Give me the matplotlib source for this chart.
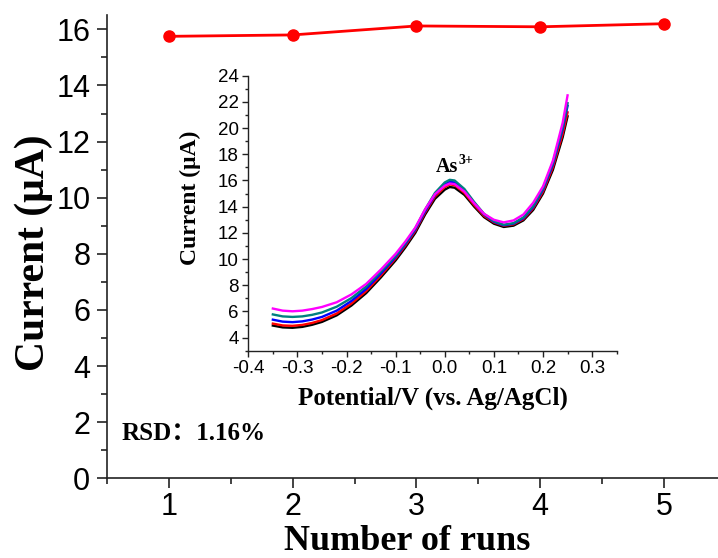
import matplotlib
matplotlib.use('Agg')
import matplotlib.pyplot as plt
from matplotlib.ticker import MultipleLocator
import numpy as np

plt.rcParams['axes.unicode_minus'] = False

# main plot: peak current of five repeated runs
runs = [1, 2, 3, 4, 5]
peak_current = [15.75, 15.80, 16.12, 16.09, 16.20]

# inset: square-wave voltammograms of the five runs
potential = [-0.35, -0.33, -0.31, -0.29, -0.27, -0.25, -0.22, -0.19, -0.16, -0.13,
             -0.10, -0.08, -0.06, -0.04, -0.02, 0.00, 0.01, 0.02, 0.04, 0.06,
             0.08, 0.10, 0.12, 0.14, 0.16, 0.18, 0.20, 0.22, 0.24, 0.25]
curve_black = [4.92, 4.78, 4.75, 4.82, 4.98, 5.20, 5.70, 6.45, 7.40, 8.60,
               9.90, 10.90, 12.00, 13.40, 14.60, 15.30, 15.50, 15.45, 14.90, 14.00,
               13.20, 12.70, 12.45, 12.55, 12.95, 13.75, 15.00, 16.80, 19.30, 20.90]
curve_red = [5.07, 4.93, 4.90, 4.97, 5.12, 5.34, 5.84, 6.60, 7.55, 8.75,
             10.05, 11.05, 12.15, 13.55, 14.78, 15.50, 15.70, 15.65, 15.05, 14.12,
             13.30, 12.80, 12.55, 12.65, 13.05, 13.88, 15.15, 17.00, 19.55, 21.20]
curve_blue = [5.37, 5.22, 5.18, 5.24, 5.38, 5.58, 6.06, 6.80, 7.72, 8.90,
              10.15, 11.15, 12.25, 13.65, 14.90, 15.68, 15.90, 15.85, 15.22, 14.25,
              13.40, 12.85, 12.58, 12.70, 13.12, 13.97, 15.30, 17.20, 19.90, 21.70]
curve_teal = [5.77, 5.62, 5.58, 5.62, 5.74, 5.92, 6.36, 7.02, 7.90, 9.05,
              10.25, 11.25, 12.35, 13.78, 15.05, 15.85, 16.05, 16.00, 15.35, 14.35,
              13.45, 12.90, 12.62, 12.74, 13.18, 14.05, 15.40, 17.35, 20.10, 21.90]
curve_magenta = [6.22, 6.06, 6.01, 6.06, 6.18, 6.34, 6.70, 7.30, 8.10, 9.20,
                 10.40, 11.35, 12.40, 13.80, 14.95, 15.60, 15.77, 15.72, 15.15, 14.25,
                 13.45, 13.00, 12.80, 12.95, 13.40, 14.30, 15.55, 17.50, 20.40, 22.50]

curves = [curve_black, curve_red, curve_blue, curve_teal, curve_magenta]
colors = ['black', '#ff0000', '#0000ff', '#008080', '#ff00ff']

sans = ['Liberation Sans', 'DejaVu Sans']
serif = ['Liberation Serif', 'Noto Sans CJK SC', 'DejaVu Serif']

fig = plt.figure(figsize=(7.18, 5.58), dpi=100)

ax = fig.add_axes([0.149, 0.1428, 0.862, 0.8298])
ax.plot(runs, peak_current, '-o', color='#ff0000', lw=2, markersize=8, clip_on=False)
ax.set_xlim(0.5, 5.5)
ax.set_ylim(0, 16.5)
ax.xaxis.set_major_locator(MultipleLocator(1))
ax.xaxis.set_minor_locator(MultipleLocator(0.5))
ax.yaxis.set_major_locator(MultipleLocator(2))
ax.yaxis.set_minor_locator(MultipleLocator(1))
for s in ['top', 'right']:
    ax.spines[s].set_visible(False)
for s in ['left', 'bottom']:
    ax.spines[s].set_linewidth(1.2)
    ax.spines[s].set_color('#222222')
ax.tick_params(which='major', direction='out', length=7, width=1.2, color='#222222')
ax.tick_params(which='minor', direction='out', length=4, width=1.2, color='#222222')
ax.tick_params(axis='x', which='major', pad=3)
ax.tick_params(axis='y', which='major', pad=5)
for lab in ax.get_xticklabels() + ax.get_yticklabels():
    lab.set_family(sans)
    lab.set_fontsize(22)
ax.set_xlabel('Number of runs', family=serif, fontweight='bold', fontsize=26)
ax.set_ylabel('Current (μA)', family=serif, fontweight='bold', fontsize=30)
ax.xaxis.set_label_coords(0.485, -0.137)
ax.xaxis.label.set_va('center')
ax.yaxis.set_label_coords(-0.118, 0.487)
ax.yaxis.label.set_va('center')
ax.text(0.62, 1.61, 'RSD：1.16%', family=serif, fontweight='bold', fontsize=18,
        va='center', ha='left')

ins = fig.add_axes([0.3458, 0.3715, 0.5131, 0.4928])
for y, c in zip(curves, colors):
    ins.plot(potential, y, color=c, lw=1.7)
ins.set_xlim(-0.4, 0.35)
ins.set_ylim(3, 24)
ins.xaxis.set_major_locator(MultipleLocator(0.1))
ins.xaxis.set_minor_locator(MultipleLocator(0.05))
ins.yaxis.set_minor_locator(MultipleLocator(1))
ins.set_yticks(np.arange(4, 25, 2))
for s in ['top', 'right']:
    ins.spines[s].set_visible(False)
for s in ['left', 'bottom']:
    ins.spines[s].set_linewidth(1.0)
    ins.spines[s].set_color('#222222')
ins.tick_params(which='major', direction='out', length=4, width=1.0, color='#222222', pad=3)
ins.tick_params(which='minor', direction='out', length=2.5, width=1.0, color='#222222')
for lab in ins.get_xticklabels() + ins.get_yticklabels():
    lab.set_family(sans)
    lab.set_fontsize(13.5)
ins.set_xlabel('Potential/V (vs. Ag/AgCl)', family=serif, fontweight='bold', fontsize=18)
ins.set_ylabel('Current (μA)', family=serif, fontweight='bold', fontsize=17)
ins.xaxis.set_label_coords(0.5, -0.172)
ins.xaxis.label.set_va('center')
ins.yaxis.set_label_coords(-0.158, 0.555)
ins.yaxis.label.set_va('center')
ins.text(-0.018, 17.0, 'As', family=serif, fontweight='bold', fontsize=14.5,
         ha='left', va='center')
ins.annotate('3+', xy=(-0.018, 17.0), xytext=(16.5, 5), textcoords='offset points',
             family=serif, fontweight='bold', fontsize=10, ha='left', va='center')

fig.savefig('out.png', dpi=100)
